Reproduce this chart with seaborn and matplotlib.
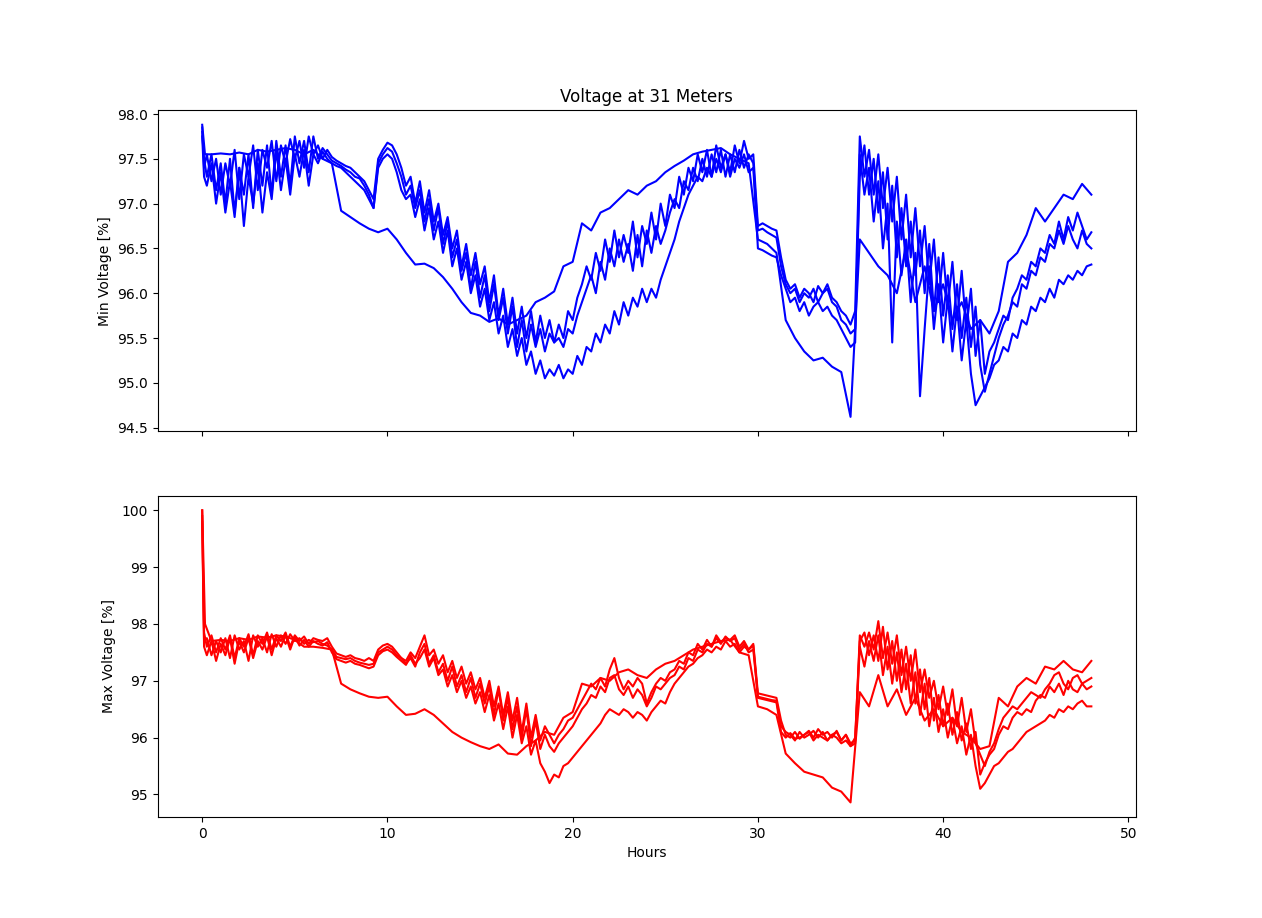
import numpy as np
import pandas as pd
import matplotlib
matplotlib.use("Agg")
import matplotlib.pyplot as plt
import seaborn as sns

# time grids (hours)
hours_fine = np.concatenate([[0.0, 0.1], np.arange(0.25, 48.001, 0.25)])
hours_coarse = np.concatenate([[0.0, 0.15], np.arange(0.5, 48.01, 0.5)])

# ---------- Min voltage (top panel) ----------
min_a = [97.85, 97.40,
 97.55, 97.25, 97.50, 97.10, 97.45, 97.20, 97.60, 97.05, 97.55, 97.30,
 97.65, 97.15, 97.60, 97.40, 97.70, 97.25, 97.65, 97.45, 97.72, 97.50,
 97.70, 97.40, 97.75, 97.55, 97.65, 97.50, 97.60, 97.52, 97.48, 97.45,
 97.42, 97.40, 97.35, 97.30, 97.25, 97.15, 97.05, 97.50, 97.60, 97.68,
 97.65, 97.55, 97.40, 97.20, 97.30, 97.00, 97.25, 96.90, 97.15, 96.80,
 97.00, 96.65, 96.85, 96.50, 96.70, 96.30, 96.55, 96.20, 96.45, 96.10,
 96.30, 95.90, 96.20, 95.75, 96.05, 95.65, 95.95, 95.55, 95.85, 95.50,
 95.80, 95.45, 95.75, 95.50, 95.70, 95.45, 95.65, 95.50, 95.80, 95.70,
 95.95, 96.10, 96.30, 96.15, 96.45, 96.25, 96.60, 96.35, 96.70, 96.40,
 96.65, 96.45, 96.80, 96.40, 96.75, 96.55, 96.90, 96.60, 97.00, 96.75,
 97.10, 96.95, 97.30, 97.10, 97.40, 97.25, 97.55, 97.35, 97.60, 97.30,
 97.65, 97.40, 97.55, 97.35, 97.65, 97.45, 97.70, 97.50, 97.55, 96.75,
 96.78, 96.75, 96.72, 96.70, 96.40, 96.15, 96.05, 96.10, 95.95, 96.05,
 96.00, 95.90, 96.08, 96.00, 96.10, 95.95, 95.90, 95.80, 95.75, 95.65,
 95.80, 97.75, 97.30, 97.60, 97.10, 97.55, 96.95, 97.40, 96.80, 97.30,
 96.60, 97.10, 96.40, 96.95, 96.30, 96.75, 96.10, 96.60, 95.90, 96.45,
 95.85, 96.35, 95.70, 96.25, 95.60, 96.05, 95.30, 95.70, 95.10, 95.35,
 95.45, 95.60, 95.75, 95.70, 95.95, 96.05, 96.20, 96.15, 96.35, 96.30,
 96.50, 96.45, 96.65, 96.55, 96.80, 96.60, 96.85, 96.70, 96.90, 96.75,
 96.60, 96.68]

min_b = [97.80, 97.50,
 97.30, 97.55, 97.15, 97.45, 97.00, 97.50, 96.90, 97.40, 97.10, 97.55,
 96.95, 97.60, 97.20, 97.65, 97.10, 97.70, 97.30, 97.65, 97.20, 97.75,
 97.45, 97.70, 97.35, 97.75, 97.50, 97.62, 97.55, 97.48, 97.45, 97.42,
 97.38, 97.35, 97.30, 97.28, 97.20, 97.10, 96.95, 97.45, 97.55, 97.62,
 97.58, 97.45, 97.30, 97.10, 97.20, 96.95, 97.15, 96.80, 97.05, 96.70,
 96.95, 96.55, 96.80, 96.40, 96.60, 96.25, 96.45, 96.05, 96.35, 95.95,
 96.20, 95.80, 96.10, 95.70, 95.95, 95.55, 95.85, 95.40, 95.70, 95.35,
 95.65, 95.40, 95.60, 95.35, 95.55, 95.45, 95.50, 95.40, 95.60, 95.55,
 95.75, 95.90, 96.05, 96.20, 96.00, 96.35, 96.15, 96.50, 96.30, 96.60,
 96.35, 96.55, 96.25, 96.65, 96.30, 96.70, 96.45, 96.75, 96.55, 96.70,
 96.90, 97.05, 96.95, 97.25, 97.15, 97.40, 97.25, 97.50, 97.30, 97.55,
 97.35, 97.60, 97.30, 97.55, 97.35, 97.60, 97.40, 97.55, 97.45, 96.70,
 96.72, 96.68, 96.65, 96.62, 96.30, 96.10, 96.00, 96.05, 95.90, 96.00,
 95.95, 96.05, 95.90, 96.00, 96.05, 95.90, 95.85, 95.70, 95.65, 95.55,
 95.60, 97.30, 97.65, 97.10, 97.50, 96.90, 97.35, 96.60, 97.20, 96.40,
 96.95, 96.30, 96.80, 96.20, 96.70, 96.00, 96.55, 95.80, 96.40, 95.75,
 96.20, 95.60, 96.10, 95.50, 95.95, 95.40, 95.85, 95.20, 94.90, 95.10,
 95.30, 95.50, 95.65, 95.75, 95.90, 95.85, 96.10, 96.05, 96.25, 96.20,
 96.40, 96.35, 96.55, 96.50, 96.70, 96.55, 96.75, 96.60, 96.50, 96.70,
 96.55, 96.50]

min_c = [97.75, 97.30,
 97.20, 97.45, 97.00, 97.35, 96.90, 97.25, 96.85, 97.40, 96.75, 97.30,
 97.00, 97.45, 96.90, 97.35, 97.05, 97.60, 97.15, 97.50, 97.10, 97.55,
 97.30, 97.60, 97.20, 97.55, 97.45, 97.58, 97.50, 97.45, 97.42, 97.40,
 97.35, 97.30, 97.25, 97.20, 97.15, 97.05, 96.95, 97.40, 97.50, 97.55,
 97.50, 97.35, 97.15, 97.05, 97.10, 96.85, 97.05, 96.70, 96.95, 96.60,
 96.80, 96.45, 96.70, 96.30, 96.50, 96.15, 96.35, 96.00, 96.20, 95.85,
 96.05, 95.70, 95.90, 95.55, 95.75, 95.40, 95.60, 95.30, 95.50, 95.20,
 95.35, 95.10, 95.25, 95.05, 95.15, 95.08, 95.20, 95.05, 95.15, 95.10,
 95.30, 95.20, 95.40, 95.35, 95.55, 95.45, 95.65, 95.55, 95.80, 95.65,
 95.90, 95.75, 95.95, 95.85, 96.05, 95.90, 96.05, 95.95, 96.15, 96.30,
 96.45, 96.60, 96.80, 96.95, 97.10, 97.20, 97.30, 97.25, 97.40, 97.30,
 97.50, 97.35, 97.55, 97.30, 97.50, 97.40, 97.55, 97.35, 97.40, 96.50,
 96.48, 96.45, 96.42, 96.40, 96.20, 96.05, 95.90, 95.95, 95.80, 95.90,
 95.75, 95.85, 95.90, 95.80, 95.85, 95.75, 95.70, 95.60, 95.50, 95.40,
 95.45, 97.55, 97.10, 97.40, 96.80, 97.25, 96.50, 97.00, 95.45, 96.80,
 96.20, 96.60, 95.90, 96.45, 94.85, 95.60, 96.30, 95.60, 96.10, 95.45,
 95.95, 95.35, 95.85, 95.25, 95.70, 95.10, 94.75, 94.85, 94.95, 95.05,
 95.20, 95.25, 95.40, 95.35, 95.55, 95.50, 95.70, 95.65, 95.85, 95.80,
 95.95, 95.90, 96.05, 95.95, 96.15, 96.10, 96.20, 96.15, 96.25, 96.20,
 96.30, 96.32]

min_d = [97.88, 97.55,
 97.55, 97.56, 97.55, 97.57, 97.55, 97.60, 97.58, 97.60, 97.62, 97.60,
 97.55, 97.60, 97.50, 97.45, 96.92, 96.85, 96.78, 96.72, 96.68, 96.72,
 96.60, 96.45, 96.32, 96.33, 96.28, 96.18, 96.05, 95.90, 95.78, 95.75,
 95.68, 95.72, 95.65, 95.70, 95.75, 95.90, 95.95, 96.02, 96.30, 96.35,
 96.78, 96.70, 96.90, 96.95, 97.05, 97.15, 97.10, 97.20, 97.25, 97.35,
 97.42, 97.48, 97.55, 97.58, 97.60, 97.62, 97.55, 97.50, 97.45, 96.60,
 96.55, 96.45, 95.70, 95.50, 95.35, 95.25, 95.28, 95.18, 95.12, 94.62,
 96.60, 96.45, 96.30, 96.20, 96.00, 96.50, 95.90, 96.30, 95.80, 96.10,
 95.70, 95.90, 95.60, 95.70, 95.55, 95.80, 96.35, 96.45, 96.65, 96.95,
 96.80, 96.95, 97.10, 97.05, 97.22, 97.10]

# ---------- Max voltage (bottom panel) ----------
max_a = [100.0, 97.85,
 97.60, 97.80, 97.50, 97.75, 97.55, 97.80, 97.40, 97.75, 97.60, 97.82,
 97.45, 97.80, 97.65, 97.85, 97.55, 97.80, 97.70, 97.85, 97.60, 97.80,
 97.70, 97.78, 97.65, 97.75, 97.72, 97.70, 97.75, 97.60, 97.48, 97.45,
 97.42, 97.45, 97.40, 97.38, 97.35, 97.40, 97.35, 97.55, 97.62, 97.65,
 97.60, 97.50, 97.40, 97.35, 97.50, 97.40, 97.60, 97.80, 97.45, 97.55,
 97.30, 97.45, 97.15, 97.35, 97.05, 97.25, 96.95, 97.15, 96.85, 97.05,
 96.70, 97.00, 96.55, 96.90, 96.40, 96.80, 96.30, 96.70, 96.10, 96.60,
 96.00, 96.40, 95.95, 96.20, 96.05, 95.90, 96.05, 96.15, 96.30, 96.35,
 96.50, 96.65, 96.80, 96.95, 96.85, 97.05, 96.90, 97.20, 97.40, 97.05,
 96.85, 97.00, 96.90, 97.05, 96.95, 96.60, 96.80, 96.95, 97.05, 97.00,
 97.15, 97.20, 97.35, 97.30, 97.50, 97.45, 97.65, 97.55, 97.72, 97.60,
 97.80, 97.68, 97.75, 97.72, 97.80, 97.60, 97.70, 97.55, 97.65, 96.78,
 96.76, 96.74, 96.72, 96.70, 96.30, 96.05, 96.00, 96.10, 95.98, 96.05,
 96.12, 96.00, 96.15, 96.05, 96.10, 96.00, 96.12, 95.95, 96.05, 95.90,
 95.95, 97.80, 97.60, 97.85, 97.55, 98.05, 97.40, 97.85, 97.30, 97.80,
 97.10, 97.60, 97.00, 97.55, 96.80, 97.20, 96.70, 97.00, 96.50, 96.90,
 96.40, 96.85, 96.20, 96.70, 96.10, 96.50, 95.90, 95.70, 95.50, 95.75,
 95.90, 96.15, 96.35, 96.45, 96.55, 96.50, 96.60, 96.70, 96.80, 96.75,
 96.70, 96.85, 96.95, 97.10, 97.15, 96.95, 96.85, 97.05, 97.10, 96.95,
 97.00, 97.05]

max_b = [99.90, 97.70,
 97.75, 97.45, 97.70, 97.50, 97.75, 97.40, 97.80, 97.55, 97.70, 97.35,
 97.80, 97.60, 97.75, 97.50, 97.82, 97.60, 97.80, 97.65, 97.82, 97.70,
 97.75, 97.65, 97.72, 97.68, 97.70, 97.65, 97.62, 97.55, 97.42, 97.40,
 97.38, 97.40, 97.35, 97.32, 97.30, 97.28, 97.30, 97.50, 97.55, 97.60,
 97.55, 97.45, 97.40, 97.30, 97.40, 97.25, 97.50, 97.65, 97.30, 97.45,
 97.15, 97.30, 97.00, 97.25, 96.90, 97.10, 96.80, 97.05, 96.70, 96.95,
 96.60, 96.90, 96.40, 96.85, 96.30, 96.70, 96.15, 96.55, 96.00, 96.50,
 95.85, 96.30, 95.80, 96.05, 95.85, 95.75, 95.90, 96.00, 96.10, 96.20,
 96.35, 96.50, 96.60, 96.75, 96.70, 96.90, 96.80, 97.05, 97.10, 96.85,
 96.75, 96.90, 96.70, 96.85, 96.75, 96.55, 96.70, 96.90, 96.85, 96.95,
 97.05, 97.10, 97.25, 97.20, 97.40, 97.35, 97.55, 97.50, 97.65, 97.60,
 97.75, 97.65, 97.78, 97.70, 97.75, 97.55, 97.65, 97.50, 97.55, 96.72,
 96.70, 96.68, 96.66, 96.65, 96.20, 96.10, 96.05, 95.95, 96.10, 96.00,
 96.05, 96.12, 96.00, 96.10, 95.95, 96.05, 96.10, 95.95, 96.05, 95.85,
 96.00, 97.70, 97.85, 97.45, 97.80, 97.35, 97.95, 97.20, 97.70, 97.00,
 97.55, 96.85, 97.45, 96.60, 97.20, 96.50, 97.05, 96.30, 96.75, 96.20,
 96.60, 96.05, 96.45, 95.95, 96.25, 95.80, 96.10, 95.35, 95.55, 95.70,
 95.80, 96.05, 96.20, 96.15, 96.35, 96.45, 96.40, 96.50, 96.45, 96.65,
 96.75, 96.70, 96.90, 96.80, 96.95, 96.75, 97.00, 96.85, 96.80, 96.95,
 96.85, 96.90]

max_c = [99.80, 97.60,
 97.45, 97.70, 97.35, 97.65, 97.45, 97.75, 97.30, 97.70, 97.50, 97.75,
 97.40, 97.70, 97.55, 97.78, 97.45, 97.75, 97.60, 97.80, 97.55, 97.78,
 97.62, 97.72, 97.60, 97.70, 97.65, 97.62, 97.68, 97.50, 97.38, 97.35,
 97.32, 97.35, 97.30, 97.28, 97.25, 97.22, 97.25, 97.45, 97.52, 97.55,
 97.50, 97.42, 97.35, 97.28, 97.45, 97.30, 97.40, 97.55, 97.25, 97.40,
 97.10, 97.20, 96.90, 97.10, 96.80, 97.00, 96.70, 96.90, 96.60, 96.80,
 96.45, 96.75, 96.30, 96.60, 96.15, 96.55, 96.00, 96.40, 95.90, 96.20,
 95.70, 95.95, 95.55, 95.40, 95.20, 95.35, 95.30, 95.50, 95.55, 95.65,
 95.75, 95.85, 95.95, 96.05, 96.15, 96.25, 96.40, 96.50, 96.45, 96.40,
 96.50, 96.45, 96.35, 96.45, 96.40, 96.30, 96.45, 96.55, 96.65, 96.60,
 96.80, 96.95, 97.05, 97.15, 97.25, 97.30, 97.40, 97.45, 97.55, 97.50,
 97.60, 97.55, 97.70, 97.60, 97.65, 97.50, 97.60, 97.55, 97.62, 96.70,
 96.68, 96.66, 96.64, 96.62, 96.10, 96.00, 96.08, 95.98, 96.00, 96.05,
 96.10, 95.95, 96.05, 96.00, 95.95, 96.05, 96.00, 95.90, 95.95, 95.85,
 95.90, 97.60, 97.25, 97.70, 97.35, 97.80, 97.10, 97.60, 96.95, 97.50,
 96.80, 97.30, 96.60, 97.15, 96.40, 96.95, 96.20, 96.70, 96.10, 96.50,
 96.00, 96.35, 95.90, 96.20, 95.70, 96.05, 95.50, 95.10, 95.20, 95.35,
 95.50, 95.55, 95.65, 95.75, 95.80, 95.90, 96.00, 96.10, 96.15, 96.20,
 96.25, 96.30, 96.40, 96.35, 96.50, 96.45, 96.55, 96.50, 96.60, 96.65,
 96.55, 96.55]

max_d = [100.0, 98.00,
 97.70, 97.72, 97.70, 97.75, 97.72, 97.78, 97.76, 97.80, 97.78, 97.72,
 97.60, 97.60, 97.58, 97.55, 96.95, 96.85, 96.78, 96.72, 96.70, 96.72,
 96.55, 96.40, 96.42, 96.50, 96.40, 96.25, 96.10, 96.00, 95.92, 95.85,
 95.80, 95.88, 95.72, 95.70, 95.85, 95.95, 96.10, 96.05, 96.35, 96.45,
 96.95, 96.90, 97.05, 97.00, 97.15, 97.20, 97.10, 97.05, 97.20, 97.30,
 97.35, 97.45, 97.55, 97.60, 97.65, 97.70, 97.72, 97.50, 97.45, 96.55,
 96.50, 96.40, 95.72, 95.55, 95.40, 95.35, 95.30, 95.12, 95.05, 94.86,
 96.80, 96.55, 97.10, 96.55, 96.85, 96.40, 96.70, 96.30, 96.50, 96.20,
 96.35, 96.10, 96.00, 95.80, 95.85, 96.70, 96.55, 96.90, 97.05, 96.95,
 97.25, 97.20, 97.35, 97.20, 97.15, 97.35]

series_names = ["A", "B", "C", "D"]
min_series = [min_a, min_b, min_c, min_d]
max_series = [max_a, max_b, max_c, max_d]


def to_long(series_list):
    frames = []
    for name, vals in zip(series_names, series_list):
        x = hours_fine if len(vals) == len(hours_fine) else hours_coarse
        frames.append(pd.DataFrame({"Hours": x, "value": vals, "series": name}))
    return pd.concat(frames, ignore_index=True)


df_min = to_long(min_series)
df_max = to_long(max_series)

fig, (ax1, ax2) = plt.subplots(2, 1, sharex=True, figsize=(12.62, 9.18), dpi=100)

sns.lineplot(data=df_min, x="Hours", y="value", units="series", estimator=None,
             sort=False, color="blue", linewidth=1.5, ax=ax1)
sns.lineplot(data=df_max, x="Hours", y="value", units="series", estimator=None,
             sort=False, color="red", linewidth=1.5, ax=ax2)

ax1.set_title("Voltage at 31 Meters")
ax1.set_ylabel("Min Voltage [%]")
ax1.set_xlabel("")
ax2.set_ylabel("Max Voltage [%]")
ax2.set_xlabel("Hours")

fig.savefig("out.png", dpi=100)
